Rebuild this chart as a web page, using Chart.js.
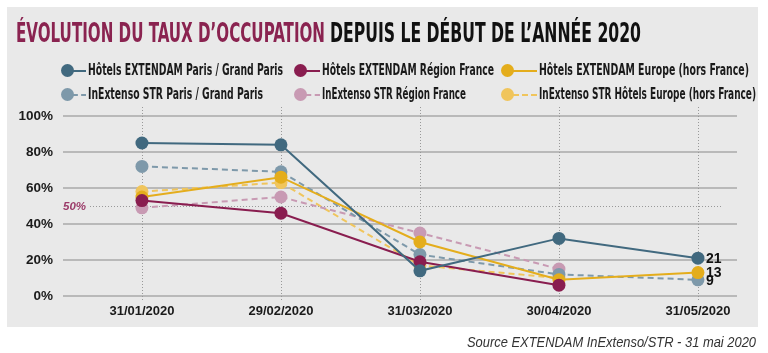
<!DOCTYPE html>
<html><head><meta charset="utf-8">
<script src="https://cdn.jsdelivr.net/npm/chart.js@4"></script>
<style>
html,body{margin:0;padding:0;background:#fff;}
#wrap{position:relative;width:768px;height:353px;overflow:hidden;}
#panel{position:absolute;left:7px;top:7px;width:751px;height:320px;background:#e9e9e9;}
canvas{position:absolute;left:0;top:0;}
.t{position:absolute;white-space:nowrap;transform-origin:0 50%;line-height:1;font-family:"Liberation Sans Narrow","Arial Narrow","DejaVu Sans Condensed","Liberation Sans",sans-serif;font-weight:bold;color:#1a1a1a;}
.dot{position:absolute;border-radius:50%;}
.seg{position:absolute;height:0;}
</style></head>
<body>
<div id="wrap">
  <div id="panel"></div>
  <canvas id="c" width="768" height="353"></canvas>
</div>
<script>
// ---- data ----
const categories = ['31/01/2020','29/02/2020','31/03/2020','30/04/2020','31/05/2020'];
const parisExtendam  = [85, 84, 14, 32, 21];
const regionExtendam = [53, 46, 19, 6, null];
const europeExtendam = [55, 66, 30, 9, 13];
const parisStr       = [72, 69, 23, 12, 9];
const regionStr      = [49, 55, 35, 15, null];
const europeStr      = [58, 63, 17, 10, null];
const seriesNames = [
  'Hôtels EXTENDAM Paris / Grand Paris',
  'Hôtels EXTENDAM Région France',
  'Hôtels EXTENDAM Europe (hors France)',
  'InExtenso STR Paris / Grand Paris',
  'InExtenso STR Région France',
  'InExtenso STR Hôtels Europe (hors France)'
];
const yTicks = [0, 20, 40, 60, 80, 100];
const endLabels = {0: '21', 2: '13', 3: '9'}; // series index -> label at last point
const referenceLine = 50;
const titleMain = 'ÉVOLUTION DU TAUX D’OCCUPATION';
const titleRest = 'DEPUIS LE DÉBUT DE L’ANNÉE 2020';
const sourceText = 'Source EXTENDAM InExtenso/STR - 31 mai 2020';

// ---- styles ----
const colors = ['#41697f', '#891d4f', '#e4ad1c', '#7e99aa', '#c89ab3', '#f0c55c'];
const dashed = [false, false, false, true, true, true];
const values = [parisExtendam, regionExtendam, europeExtendam, parisStr, regionStr, europeStr];
const TICKFONT = '"Liberation Sans",Arial,sans-serif';

const wrap = document.getElementById('wrap');
function addText(txt, x, cy, fs, targetW, extra) {
  const el = document.createElement('div');
  el.className = 't';
  el.textContent = txt;
  el.style.fontSize = fs + 'px';
  el.style.left = x + 'px';
  el.style.top = (cy - fs * 0.49) + 'px';
  if (extra) Object.assign(el.style, extra);
  wrap.appendChild(el);
  const w = el.getBoundingClientRect().width;
  if (targetW && w > 0) el.style.transform = 'scaleX(' + (targetW / w) + ')';
  return el;
}
// title
addText(titleMain, 16, 33, 26, 309, {color: '#8a2350'});
addText(titleRest, 330, 33, 26, 311, {color: '#111'});
// legend
const legPos = [[67, 70.5, 88, 195], [300, 70.5, 322, 172], [507, 70.5, 539, 210],
                [67, 94.5, 88, 175], [300, 94.5, 322, 144], [507, 94.5, 539, 217]];
[0, 1, 2, 3, 4, 5].forEach((s, k) => {
  const [mx, my, tx, tw] = legPos[k];
  const seg = document.createElement('div');
  seg.className = 'seg';
  seg.style.left = (mx + 6) + 'px';
  seg.style.width = (tx - mx - 8) + 'px';
  seg.style.top = (my - 1) + 'px';
  seg.style.borderTop = '2px ' + (dashed[s] ? 'dashed ' : 'solid ') + colors[s];
  wrap.appendChild(seg);
  const d = document.createElement('div');
  d.className = 'dot';
  d.style.left = (mx - 6.5) + 'px'; d.style.top = (my - 6.5) + 'px';
  d.style.width = '13px'; d.style.height = '13px';
  d.style.background = colors[s];
  wrap.appendChild(d);
  addText(seriesNames[s], tx, my, 15, tw);
});
// source
addText(sourceText, 467, 342, 14, 289, {fontFamily: '"Liberation Sans",Arial,sans-serif', fontWeight: 'normal', fontStyle: 'italic', color: '#333'});

// ---- chart ----
const datasets = values.map((v, i) => ({
  label: seriesNames[i],
  data: v.map((y, k) => ({x: k, y: y})),
  borderColor: colors[i],
  backgroundColor: colors[i],
  borderWidth: 2,
  borderDash: dashed[i] ? [6, 4] : [],
  pointRadius: 6.5,
  pointHoverRadius: 6.5,
  pointBorderWidth: 0,
  spanGaps: false,
  order: dashed[i] ? 2 : 1,
  tension: 0
}));

const decor = {
  id: 'decor',
  beforeDatasetsDraw(chart) {
    const {ctx, chartArea: a, scales: {x, y}} = chart;
    ctx.save();
    ctx.strokeStyle = '#999';
    ctx.lineWidth = 1;
    ctx.setLineDash([1, 2]);
    categories.forEach((c, i) => {
      const px = Math.round(x.getPixelForValue(i)) + 0.5;
      ctx.beginPath(); ctx.moveTo(px, a.top - 9); ctx.lineTo(px, a.bottom + 6); ctx.stroke();
    });
    const py = Math.round(y.getPixelForValue(referenceLine)) + 0.5;
    ctx.beginPath(); ctx.moveTo(a.left + 27, py); ctx.lineTo(a.right - 14, py); ctx.stroke();
    ctx.setLineDash([]);
    ctx.font = 'italic bold 11.5px ' + TICKFONT;
    ctx.fillStyle = '#9b3b69';
    ctx.textAlign = 'left';
    ctx.textBaseline = 'middle';
    ctx.fillText(referenceLine + '%', a.left, py);
    ctx.restore();
  },
  afterDatasetsDraw(chart) {
    const {ctx} = chart;
    ctx.save();
    ctx.font = 'bold 14px ' + TICKFONT;
    ctx.fillStyle = '#111';
    ctx.textAlign = 'left';
    ctx.textBaseline = 'middle';
    Object.keys(endLabels).forEach(si => {
      const meta = chart.getDatasetMeta(+si);
      const pts = meta.data;
      const p = pts[pts.length - 1];
      ctx.fillText(endLabels[si], p.x + 8, p.y + 1);
    });
    ctx.restore();
  }
};

new Chart(document.getElementById('c'), {
  type: 'line',
  data: {datasets},
  options: {
    responsive: false,
    animation: false,
    events: [],
    layout: {padding: {left: 0, right: 31, top: 116, bottom: 0}},
    plugins: {legend: {display: false}, title: {display: false}, tooltip: {enabled: false}},
    scales: {
      x: {
        type: 'linear',
        min: -0.568, max: 4.281,
        afterBuildTicks(scale) { scale.ticks = categories.map((c, i) => ({value: i})); },
        afterFit(scale) { scale.height = 57; },
        grid: {display: false, drawTicks: false},
        border: {display: false},
        ticks: {
          callback: (v) => categories[v],
          font: {family: TICKFONT, weight: 'bold', size: 13},
          color: '#1a1a1a',
          padding: 8,
          maxRotation: 0,
          autoSkip: false
        }
      },
      y: {
        min: 0, max: 100,
        afterBuildTicks(scale) { scale.ticks = yTicks.map(v => ({value: v})); },
        afterFit(scale) { scale.width = 63; },
        grid: {color: '#b9b9b9', lineWidth: 2, drawTicks: false},
        border: {display: false},
        ticks: {
          callback: (v) => v + '%',
          font: {family: TICKFONT, weight: 'bold', size: 13.5},
          color: '#1a1a1a',
          padding: 10
        }
      }
    }
  },
  plugins: [decor]
});
</script>
</body></html>
